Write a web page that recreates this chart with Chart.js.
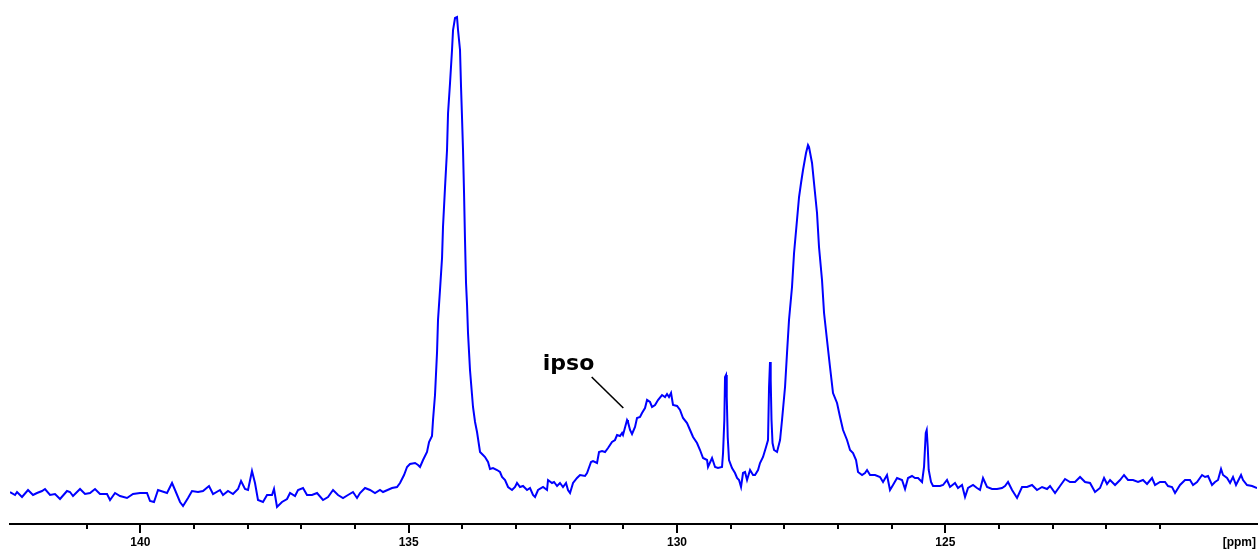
<!DOCTYPE html>
<html>
<head>
<meta charset="utf-8">
<script src="https://cdn.jsdelivr.net/npm/chart.js@4.4.1/dist/chart.umd.min.js"></script>
<style>
  html, body { margin: 0; padding: 0; background: #fff; }
  canvas { display: block; }
</style>
</head>
<body>
<canvas id="mycanvas" width="1258" height="552"></canvas>
<script>
// 13C spectrum (intensity in arbitrary units)
var ppm = [
  142.428, 142.334, 142.297, 142.204, 142.092, 141.999, 141.925, 141.831, 141.776, 141.682,
  141.589, 141.496, 141.366, 141.310, 141.254, 141.123, 141.030, 140.937, 140.844, 140.751,
  140.620, 140.564, 140.471, 140.378, 140.248, 140.136, 140.005, 139.875, 139.819, 139.745,
  139.670, 139.502, 139.409, 139.353, 139.260, 139.204, 139.111, 139.037, 138.925, 138.832,
  138.720, 138.645, 138.515, 138.459, 138.366, 138.273, 138.179, 138.123, 138.049, 137.993,
  137.919, 137.863, 137.807, 137.714, 137.639, 137.546, 137.509, 137.453, 137.360, 137.266,
  137.210, 137.117, 137.061, 136.968, 136.894, 136.801, 136.707, 136.596, 136.502, 136.409,
  136.316, 136.223, 136.130, 136.037, 135.962, 135.906, 135.813, 135.720, 135.627, 135.534,
  135.478, 135.310, 135.217, 135.161, 135.086, 135.030, 134.975, 134.881, 134.825, 134.788,
  134.732, 134.658, 134.620, 134.565, 134.546, 134.509, 134.471, 134.453, 134.416, 134.378,
  134.360, 134.322, 134.285, 134.266, 134.229, 134.192, 134.173, 134.136, 134.099, 134.080,
  134.043, 134.024, 134.006, 133.987, 133.968, 133.950, 133.931, 133.912, 133.894, 133.857,
  133.819, 133.801, 133.763, 133.726, 133.670, 133.614, 133.577, 133.521, 133.484, 133.428,
  133.353, 133.298, 133.260, 133.204, 133.148, 133.074, 133.018, 132.981, 132.925, 132.869,
  132.794, 132.739, 132.683, 132.645, 132.589, 132.496, 132.422, 132.403, 132.329, 132.291,
  132.235, 132.180, 132.124, 132.068, 132.031, 131.993, 131.937, 131.863, 131.807, 131.714,
  131.676, 131.602, 131.565, 131.490, 131.453, 131.397, 131.341, 131.285, 131.211, 131.155,
  131.117, 131.062, 131.024, 131.006, 130.931, 130.913, 130.875, 130.838, 130.782, 130.745,
  130.689, 130.652, 130.596, 130.558, 130.503, 130.465, 130.409, 130.354, 130.279, 130.223,
  130.186, 130.149, 130.111, 130.074, 129.999, 129.944, 129.888, 129.813, 129.757, 129.701,
  129.627, 129.571, 129.515, 129.440, 129.422, 129.347, 129.291, 129.236, 129.161, 129.142,
  129.118, 129.105, 129.086, 129.073, 129.055, 129.031, 128.975, 128.919, 128.881, 128.844,
  128.807, 128.770, 128.732, 128.695, 128.639, 128.583, 128.546, 128.490, 128.453, 128.397,
  128.341, 128.304, 128.285, 128.267, 128.254, 128.239, 128.220, 128.192, 128.136, 128.080,
  128.043, 127.987, 127.950, 127.913, 127.857, 127.819, 127.764, 127.726, 127.689, 127.652,
  127.596, 127.559, 127.540, 127.484, 127.447, 127.391, 127.354, 127.298, 127.260, 127.205,
  127.149, 127.093, 127.018, 126.962, 126.906, 126.832, 126.776, 126.720, 126.664, 126.627,
  126.552, 126.497, 126.459, 126.403, 126.310, 126.217, 126.161, 126.087, 126.031, 125.975,
  125.900, 125.807, 125.751, 125.695, 125.621, 125.565, 125.509, 125.434, 125.397, 125.365,
  125.347, 125.328, 125.310, 125.267, 125.229, 125.099, 125.043, 124.969, 124.913, 124.820,
  124.764, 124.689, 124.633, 124.577, 124.484, 124.410, 124.354, 124.298, 124.223, 124.130,
  124.037, 123.944, 123.888, 123.832, 123.757, 123.664, 123.571, 123.478, 123.385, 123.292,
  123.198, 123.105, 123.049, 122.956, 122.863, 122.770, 122.677, 122.584, 122.490, 122.397,
  122.304, 122.211, 122.118, 122.043, 121.987, 121.931, 121.838, 121.745, 121.671, 121.596,
  121.503, 121.410, 121.317, 121.242, 121.149, 121.093, 121.000, 120.907, 120.851, 120.776,
  120.720, 120.627, 120.534, 120.441, 120.385, 120.310, 120.217, 120.161, 120.105, 120.031,
  119.975, 119.919, 119.863, 119.826, 119.751, 119.695, 119.640, 119.584, 119.490, 119.453,
  119.379, 119.285, 119.192
];

var intensity = [
  8, 5, 8, 3, 10, 5, 7, 9, 11, 5,
  6, 1, 9, 8, 4, 11, 6, 7, 11, 6,
  6, 0, 7, 4, 2, 6, 7, 7, -1, -2,
  10, 7, 17, 10, -2, -6, 2, 9, 8, 9,
  14, 6, 10, 5, 9, 6, 11, 19, 11, 10,
  29, 17, 0, -2, 5, 5, 11, -7, -2, 1,
  7, 4, 10, 12, 5, 5, 7, 0, 3, 10,
  5, 2, 5, 8, 2, 7, 12, 10, 7, 10,
  8, 12, 13, 17, 25, 33, 36, 37, 35, 33,
  40, 48, 58, 64, 80, 105, 148, 180, 210, 242,
  273, 313, 350, 387, 417, 450, 470, 482, 483, 470,
  450, 413, 383, 350, 307, 260, 217, 195, 167, 130,
  105, 93, 78, 68, 48, 45, 43, 38, 31, 32,
  30, 28, 23, 20, 13, 10, 13, 17, 13, 14,
  10, 12, 5, 3, 10, 13, 10, 20, 17, 18,
  14, 17, 13, 17, 10, 7, 17, 22, 25, 24,
  27, 38, 39, 37, 48, 49, 48, 52, 58, 60,
  65, 64, 67, 65, 80, 78, 70, 66, 73, 82,
  83, 87, 92, 100, 98, 93, 95, 100, 105, 103,
  106, 103, 107, 95, 94, 90, 82, 77, 70, 63,
  57, 50, 42, 40, 33, 42, 33, 32, 33, 47,
  80, 123, 125, 103, 63, 40, 32, 27, 22, 20,
  13, 27, 28, 20, 30, 25, 25, 30, 37, 43,
  53, 60, 113, 138, 120, 80, 57, 50, 48, 60,
  80, 113, 147, 180, 213, 247, 280, 303, 317, 330,
  347, 355, 353, 337, 317, 287, 253, 220, 187, 160,
  133, 107, 97, 83, 70, 60, 50, 47, 40, 28,
  25, 27, 30, 25, 25, 23, 18, 25, 10, 15,
  22, 20, 11, 22, 24, 22, 22, 18, 33, 67,
  70, 53, 30, 18, 14, 14, 15, 20, 13, 17,
  12, 15, 3, 12, 15, 12, 10, 22, 13, 11,
  11, 12, 14, 18, 10, 2, 13, 13, 15, 10,
  13, 11, 14, 7, 14, 21, 18, 18, 23, 18,
  17, 8, 12, 22, 16, 20, 15, 20, 25, 20,
  20, 18, 20, 16, 22, 15, 18, 18, 14, 13,
  7, 15, 20, 20, 15, 18, 25, 23, 24, 15,
  18, 20, 31, 25, 22, 17, 23, 15, 25, 20,
  15, 14, 12
];

// axis range and ticks (ppm, reversed)
var ppmLeft = 142.428;
var ppmRight = 119.193;
var majorStep = 5;

// "ipso" annotation: label position and leader line, in data units
var ipsoText = "ipso";
var ipsoLabelAt = [132.50, 130];
var ipsoLineFrom = [131.59, 123];
var ipsoLineTo = [131.00, 92];

var points = [];
for (var i = 0; i < ppm.length; i++) {
  points.push({ x: ppm[i], y: intensity[i] });
}

var tickFont = "bold 12px 'Liberation Sans', Arial, sans-serif";

var extras = {
  id: "extras",
  afterDraw: function(chart) {
    var ctx = chart.ctx;
    var xs = chart.scales.x;
    var ys = chart.scales.y;
    var area = chart.chartArea;

    // tick marks: long on every 5 ppm, short on every 1 ppm
    ctx.save();
    ctx.strokeStyle = "#000";
    ctx.lineWidth = 2;
    xs.ticks.forEach(function(t) {
      if (!Number.isInteger(t.value)) return;
      var px = Math.round(xs.getPixelForValue(t.value));
      var len = (t.value % majorStep === 0) ? 9 : 5;
      ctx.beginPath();
      ctx.moveTo(px, area.bottom);
      ctx.lineTo(px, area.bottom + len);
      ctx.stroke();
    });

    // unit at the right end of the axis
    ctx.fillStyle = "#000";
    ctx.font = tickFont;
    ctx.textAlign = "right";
    ctx.textBaseline = "middle";
    ctx.fillText("[ppm]", area.right - 1, 543);

    // ipso label and leader
    ctx.font = "bold 22px 'DejaVu Sans', Verdana, sans-serif";
    ctx.textAlign = "left";
    ctx.textBaseline = "alphabetic";
    ctx.fillText(ipsoText, xs.getPixelForValue(ipsoLabelAt[0]), ys.getPixelForValue(ipsoLabelAt[1]));
    ctx.lineWidth = 1.6;
    ctx.beginPath();
    ctx.moveTo(xs.getPixelForValue(ipsoLineFrom[0]), ys.getPixelForValue(ipsoLineFrom[1]));
    ctx.lineTo(xs.getPixelForValue(ipsoLineTo[0]), ys.getPixelForValue(ipsoLineTo[1]));
    ctx.stroke();
    ctx.restore();
  }
};

var ctx = document.getElementById("mycanvas");

var spectrum = new Chart(ctx, {
  type: "line",
  data: {
    datasets: [
      {
        label: "13C",
        data: points,
        borderColor: "#0000ff",
        borderWidth: 2,
        pointRadius: 0,
        fill: false,
        tension: 0
      }
    ]
  },
  options: {
    responsive: false,
    animation: false,
    layout: { padding: { left: 10, right: 1, top: 0, bottom: 0 } },
    plugins: {
      legend: { display: false },
      tooltip: { enabled: false }
    },
    scales: {
      x: {
        type: "linear",
        reverse: true,
        min: ppmRight,
        max: ppmLeft,
        grid: { display: false },
        border: { display: true, color: "#000", width: 2 },
        ticks: {
          stepSize: 1,
          autoSkip: false,
          maxRotation: 0,
          padding: 3.5,
          color: "#000",
          font: { family: "'Liberation Sans', Arial, sans-serif", size: 12, weight: "bold" },
          callback: function(value) {
            return (Number.isInteger(value) && value % majorStep === 0) ? value : "";
          }
        },
        afterFit: function(scale) {
          scale.height = 28;
          scale.paddingLeft = 0;
          scale.paddingRight = 0;
        }
      },
      y: {
        display: false,
        min: -24,
        max: 500
      }
    }
  },
  plugins: [extras]
});
</script>
</body>
</html>
